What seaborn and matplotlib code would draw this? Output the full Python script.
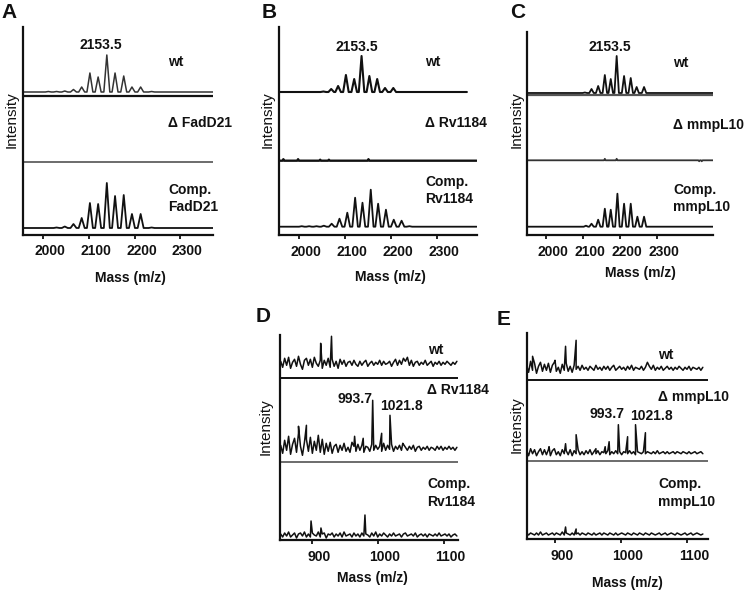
import numpy as np
import pandas as pd
import matplotlib
matplotlib.use("Agg")
import matplotlib.pyplot as plt
import matplotlib.transforms as mtransforms
import seaborn as sns

W, H = 745, 594

# ---------------- data ----------------
# panels A-C: peak m/z and peak height (pixel-scaled intensity)
A_WT_MZ = [2011, 2029, 2047, 2066, 2084, 2102, 2120, 2139, 2157, 2176, 2194, 2213, 2237]
A_WT_INT = [0.5, 0.5, 1, 2.5, 5, 19, 15, 37, 19, 16, 5, 5, 0.5]
A_CO_MZ = [2029, 2047, 2066, 2084, 2102, 2120, 2139, 2157, 2176, 2194, 2213, 2237]
A_CO_INT = [0.5, 1.5, 4, 10, 25, 24, 45, 32, 33, 14, 14, 0.5]

B_WT_MZ = [2053, 2070, 2085, 2102, 2120, 2136, 2153, 2170, 2187, 2205]
B_WT_INT = [0.5, 3, 6, 17, 13, 36, 16, 13, 4, 4]
B_DEL_MZ = [1966, 1998, 2046, 2065, 2151]
B_DEL_INT = [1.5, 1.5, 1, 1, 1.5]
B_CO_MZ = [2006, 2022, 2038, 2054, 2071, 2088, 2105, 2122, 2138, 2156, 2172, 2189, 2206, 2223, 2240]
B_CO_INT = [0.5, 0.5, 0.5, 1, 3, 8, 14, 29, 24, 37, 23, 17, 7, 6, 0.5]

C_WT_MZ = [2105, 2123, 2141, 2159, 2175, 2191, 2211, 2229, 2245, 2265]
C_WT_INT = [0.5, 4, 7, 18, 14, 37, 17, 15, 6, 6]
C_DEL_MZ = [2159, 2191, 2414, 2421]
C_DEL_INT = [1.5, 1.5, -1, -1]
C_CO_MZ = [2108, 2123, 2141, 2159, 2175, 2193, 2211, 2229, 2247, 2265]
C_CO_INT = [1, 3, 7, 18, 17, 33, 23, 23, 10, 10]

# panels D-E: noise on a 3 m/z channel grid plus discrete peaks
D_GRID = np.arange(853, 1121, 3)
E_GRID = np.arange(857, 1125, 3)

D_WT_NOISE = [2, -4, 5, -2, 6, -5, 1, 4, -3, 7, -1, -6, 3, 5, -2, 4, -4, 6, 0, -3,
              3, -5, 3, -2, 5, -4, 4, -3, 2, -5, 4, -1, 3, -3, 1, 2, -2, 3, -1, -3,
              2, -2, 1, 3, -3, 0, 2, -2, 1, -1, 3, -2, 2, -1, 0, 2, -3, 1, 4, -2,
              3, -1, 5, 2, 6, -2, 3, -3, 1, 2, -2, 1, -1, 3, -2, 0, 2, -3, 1, -1,
              2, -2, 1, -1, 2, 0, -2, 1, -1, 2]
D_WT_PK_MZ = [913.6, 930]
D_WT_PK_H = [20, 27]

D_DEL_NOISE = [3, -5, 8, -2, 12, -6, 4, 10, -4, 15, 2, -7, 6, 9, -3, 11, -5, 7, -2, 13,
               -4, 9, -6, 5, -3, 6, -5, 2, 4, -4, 3, -2, 5, -3, 1, -4, 6, 2, -3, 4,
               -2, 3, -4, 2, 1, -3, 4, -2, 3, -1, 2, -3, 5, -2, 3, -1, 4, -3, 2, -1,
               3, -2, 4, 1, -2, 2, -1, 3, -3, 1, 2, -2, 1, -1, 2, -2, 1, 0, -2, 2,
               -1, 2, -2, 1, -1, 2, -1, 1, -2, 1]
D_DEL_PK_MZ = [880, 892, 965, 978, 992.4, 1006, 1018.6, 1038]
D_DEL_PK_H = [22, 23, 12, 10, 48, 15, 33, 5]

D_CO_NOISE = [1, -2, 2, -1, 3, -2, 0, 2, -3, 1, 2, -1, 3, -2, 1, -2, 2, 0, -1, 3,
              -2, 1, 2, -3, 1, 0, 2, -2, 1, -1, 2, -2, 3, -1, 0, 1, -2, 2, -1, 1,
              -2, 2, -1, 1, 0, -2, 2, -1, 3, -2, 1, -1, 2, 0, -2, 1, -1, 2, -1, 0,
              1, -2, 1, 2, -1, 0, 1, -1, 2, -2, 0, 1, -1, 1, -2, 1, 0, -1, 1, -1,
              2, -1, 0, 1, -1, 1, -2, 0, 1, -1]
D_CO_PK_MZ = [899, 914, 980.7]
D_CO_PK_H = [14, 7, 20]

E_WT_NOISE = [3, -4, 7, -2, 5, -5, 2, 6, -3, 4, -2, 5, -4, 3, 6, -3, 1, -5, 4, -2,
              5, -3, 2, -4, 3, -1, 2, -2, 3, -1, 1, -2, 2, 0, -2, 3, -1, 1, -2, 2,
              -1, 2, -2, 1, 3, -2, 0, 2, -1, 1, -2, 2, -1, 3, -2, 1, 0, -1, 2, -2,
              1, 6, 2, -1, 3, -2, 1, -1, 2, -2, 0, 2, -1, 1, -2, 1, -1, 2, 0, -2,
              1, -1, 2, -2, 1, 0, -1, 1, -2, 1]
E_WT_PK_MZ = [866, 900, 916, 932]
E_WT_PK_H = [12, 8, 22, 28]

E_DEL_NOISE = [2, -3, 4, -1, 3, -3, 1, 4, -2, 3, -2, 3, -3, 2, 4, -2, 1, -3, 3, -1,
               2, -2, 3, -3, 2, -1, 3, -2, 1, -2, 2, -1, 3, -2, 1, -1, 2, -2, 1, 0,
               -1, 2, -2, 1, -1, 2, -1, 1, -2, 1, 0, -1, 2, -1, 1, -2, 1, 0, -1, 1,
               -1, 1, 0, -1, 1, -1, 2, -1, 0, 1, -1, 1, -1, 0, 1, -1, 1, 0, -1, 1,
               0, -1, 1, -1, 0, 1, -1, 0, 1, -1]
E_DEL_PK_MZ = [891, 916, 932, 962, 976, 982, 996, 1010, 1022, 1037]
E_DEL_PK_H = [6, 9, 18, 4, 6, 11, 28, 16, 28, 20]

E_CO_NOISE = [1, -1, 1, 0, -1, 1, -1, 2, -1, 0, 1, -1, 0, 1, -1, 1, 0, -1, 2, -1,
              1, 0, -1, 1, -1, 0, 1, -1, 1, 0, -1, 1, 0, -1, 1, -1, 0, 1, -1, 1,
              0, -1, 1, 0, -1, 1, -1, 0, 1, 0, -1, 1, 0, -1, 1, 0, -1, 1, 0, -1,
              1, 0, -1, 1, 0, -1, 0, 1, -1, 0, 1, -1, 0, 1, 0, -1, 1, 0, -1, 0,
              1, -1, 0, 1, -1, 0, 1, 0, -1, 0]
E_CO_PK_MZ = [916, 932]
E_CO_PK_H = [7, 5]

TOP_TICKS = [2000, 2100, 2200, 2300]
BOT_TICKS = [900, 1000, 1100]

# ---------------- style ----------------
sns.set_theme(style="ticks")
plt.rcParams["font.family"] = ["Liberation Sans", "DejaVu Sans"]
INK = "#111111"

fig = plt.figure(figsize=(W / 100, H / 100), dpi=100)


def fx(x):
    return x / W


def fy(y):
    return 1 - y / H


def add_panel(box, tick0, tick0_px, px_per_unit, ticks):
    left, top, right, bottom = box
    ax = fig.add_axes([fx(left), fy(bottom), (right - left) / W, (bottom - top) / H])
    ax.set_xlim(tick0 - (tick0_px - left) / px_per_unit,
                tick0 + (right - tick0_px) / px_per_unit)
    ax.set_ylim(0, bottom - top)
    ax.set_xticks(ticks)
    ax.set_yticks([])
    for side in ["top", "right"]:
        ax.spines[side].set_visible(False)
    for side in ["left", "bottom"]:
        ax.spines[side].set_linewidth(1.6)
        ax.spines[side].set_color(INK)
    ax.tick_params(axis="x", direction="out", length=3, width=1.3,
                   labelsize=10, pad=4, colors=INK)
    shift = mtransforms.ScaledTranslation(7 / 100, 0, fig.dpi_scale_trans)
    for lbl in ax.get_xticklabels():
        lbl.set_fontweight("bold")
        lbl.set_transform(lbl.get_transform() + shift)
    return ax


def peak_frame(mz, inten, base, half, xlim):
    xs, ys = [xlim[0]], [base]
    for m, h in zip(mz, inten):
        xs += [m - half, m, m + half]
        ys += [base, base + h, base]
    xs.append(xlim[1])
    ys.append(base)
    return pd.DataFrame({"mz": xs, "y": ys})


def noisy_frame(grid, noise, pk_mz, pk_h, base):
    xs = list(grid) + list(pk_mz)
    ys = [base + n for n in noise] + [base + h for h in pk_h]
    return pd.DataFrame({"mz": xs, "y": ys}).sort_values("mz")


def line(ax, df, color=INK, lw=1.3):
    sns.lineplot(data=df, x="mz", y="y", sort=False, estimator=None,
                 color=color, linewidth=lw, ax=ax)
    ax.set_xlabel("")
    ax.set_ylabel("")


def hline(ax, y, color=INK, lw=1.3):
    ax.axhline(y, color=color, linewidth=lw)


def txt(x, y, s, size=10, ha="left", weight="bold", rot=0):
    fig.text(fx(x), fy(y), s, ha=ha, va="center", fontsize=size,
             fontweight=weight, color=INK, rotation=rot)


def axis_titles(xlab_x, xlab_y, ylab_x, ylab_y):
    txt(xlab_x, xlab_y, "Mass (m/z)", ha="center")
    txt(ylab_x, ylab_y, "Intensity", size=11, ha="center", weight="normal", rot=90)


# ---------------- panel A ----------------
box = (22.5, 27, 213, 234.5)
ax = add_panel(box, 2000, 43.3, 0.457, TOP_TICKS)
b = box[3]
line(ax, peak_frame(A_WT_MZ, A_WT_INT, b - 92, 6.5, ax.get_xlim()), color="#333333", lw=1.1)
hline(ax, b - 96, lw=1.6)
hline(ax, b - 161.7, color="#444444", lw=1.1)
line(ax, peak_frame(A_CO_MZ, A_CO_INT, b - 228, 6.5, ax.get_xlim()))
axis_titles(130, 278, 12, 120)
txt(9, 12, "A", 15, ha="center")
txt(101, 45, "2153.5", ha="center")
txt(168, 62, "wt")
txt(168, 123, "Δ FadD21")
txt(168, 190, "Comp.")
txt(168, 207, "FadD21")

# ---------------- panel B ----------------
box = (279.3, 27, 476.7, 235)
ax = add_panel(box, 2000, 299, 0.46, TOP_TICKS)
b = box[3]
line(ax, peak_frame(B_WT_MZ, B_WT_INT, b - 92, 6, (ax.get_xlim()[0], 2365)), lw=1.5)
line(ax, peak_frame(B_DEL_MZ, B_DEL_INT, b - 160.7, 2, ax.get_xlim()), lw=1.7)
line(ax, peak_frame(B_CO_MZ, B_CO_INT, b - 226.7, 6, ax.get_xlim()))
axis_titles(390, 277, 268, 120)
txt(269, 12, "B", 15, ha="center")
txt(357, 47, "2153.5", ha="center")
txt(425, 62, "wt")
txt(425, 123, "Δ Rv1184")
txt(425, 182, "Comp.")
txt(425, 199, "Rv1184")

# ---------------- panel C ----------------
box = (527.3, 32, 713.3, 235)
ax = add_panel(box, 2000, 546, 0.37, TOP_TICKS)
b = box[3]
line(ax, peak_frame(C_WT_MZ, C_WT_INT, b - 93, 6, ax.get_xlim()))
hline(ax, b - 95, color="#555555", lw=1.6)
line(ax, peak_frame(C_DEL_MZ, C_DEL_INT, b - 160.3, 2, ax.get_xlim()), color="#333333", lw=1.3)
line(ax, peak_frame(C_CO_MZ, C_CO_INT, b - 226.7, 6, ax.get_xlim()))
axis_titles(640, 273, 517, 120)
txt(518, 12, "C", 15, ha="center")
txt(610, 47, "2153.5", ha="center")
txt(673, 63, "wt")
txt(673, 125, "Δ mmpL10")
txt(673, 190, "Comp.")
txt(673, 207, "mmpL10")

# ---------------- panel D ----------------
box = (280, 335, 458.3, 540)
ax = add_panel(box, 900, 311.7, 0.66, BOT_TICKS)
b = box[3]
line(ax, noisy_frame(D_GRID, D_WT_NOISE, D_WT_PK_MZ, D_WT_PK_H, b - 363.3), lw=1.1)
hline(ax, b - 378.3, lw=1.4)
line(ax, noisy_frame(D_GRID, D_DEL_NOISE, D_DEL_PK_MZ, D_DEL_PK_H, b - 448.3), lw=1.1)
hline(ax, b - 461.7, color="#444444", lw=1.1)
line(ax, noisy_frame(D_GRID, D_CO_NOISE, D_CO_PK_MZ, D_CO_PK_H, b - 535), lw=1.1)
axis_titles(372, 578, 266, 427)
txt(263, 316, "D", 15, ha="center")
txt(355, 399, "993.7", ha="center")
txt(401.7, 406, "1021.8", ha="center")
txt(428, 350, "wt")
txt(427, 390, "Δ Rv1184")
txt(427, 484, "Comp.")
txt(427, 502, "Rv1184")

# ---------------- panel E ----------------
box = (526.7, 333.3, 708.3, 539)
ax = add_panel(box, 900, 555, 0.66, BOT_TICKS)
b = box[3]
line(ax, noisy_frame(E_GRID, E_WT_NOISE, E_WT_PK_MZ, E_WT_PK_H, b - 368.3), lw=1.1)
hline(ax, b - 380, lw=1.4)
line(ax, noisy_frame(E_GRID, E_DEL_NOISE, E_DEL_PK_MZ, E_DEL_PK_H, b - 452.7), lw=1.1)
hline(ax, b - 460.7, color="#444444", lw=1.1)
line(ax, noisy_frame(E_GRID, E_CO_NOISE, E_CO_PK_MZ, E_CO_PK_H, b - 534), lw=1.1)
axis_titles(627, 583, 517, 425)
txt(504, 319, "E", 15, ha="center")
txt(606.7, 414, "993.7", ha="center")
txt(651.7, 416, "1021.8", ha="center")
txt(658, 355, "wt")
txt(658, 397, "Δ mmpL10")
txt(658, 484, "Comp.")
txt(658, 502, "mmpL10")

fig.savefig("out.png", dpi=100)
